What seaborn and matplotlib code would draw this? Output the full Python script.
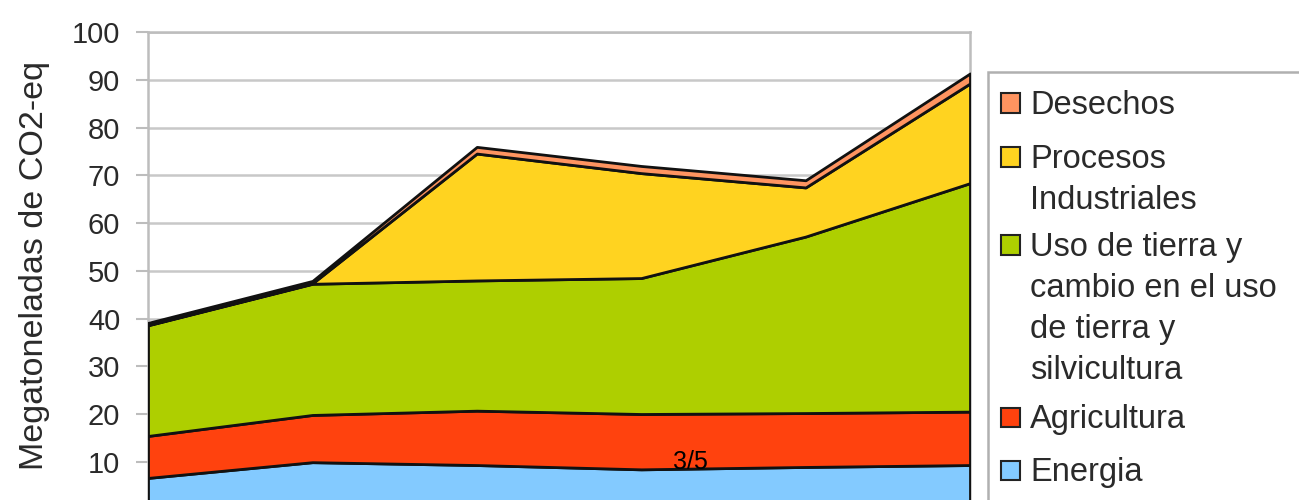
import matplotlib
matplotlib.use("Agg")
import matplotlib.pyplot as plt
import seaborn as sns
import numpy as np
import pandas as pd
from matplotlib.patches import Rectangle

# ---- data (x labels are cut off in the reference) ----
periodos = [0, 1, 2, 3, 4, 5]
energia = [6.6, 9.9, 9.3, 8.4, 8.9, 9.3]
agricultura = [8.8, 9.9, 11.4, 11.6, 11.3, 11.2]
uso_tierra = [23.2, 27.5, 27.3, 28.5, 37.0, 47.9]
procesos = [0.1, 0.1, 26.6, 22.0, 10.3, 20.9]
desechos = [0.4, 0.5, 1.4, 1.5, 1.5, 2.1]

series_names = ["Energia", "Agricultura",
                "Uso de tierra y\ncambio en el uso\nde tierra y\nsilvicultura",
                "Procesos\nIndustriales", "Desechos"]
colores = ["#83CAFF", "#FF420E", "#AECF00", "#FFD320", "#FF9460"]
yticks = [0, 10, 20, 30, 40, 50, 60, 70, 80, 90, 100]
ylabel = "Megatoneladas de CO2-eq"
nota = "3/5"

df = pd.DataFrame({"periodo": periodos, "Energia": energia, "Agricultura": agricultura,
                   "Uso": uso_tierra, "Procesos": procesos, "Desechos": desechos})

sns.set_theme(style="whitegrid")
plt.rcParams["font.family"] = ["Liberation Sans", "DejaVu Sans"]

W, H = 1299, 500
fig = plt.figure(figsize=(W / 100, H / 100), dpi=100)
fig.patch.set_facecolor("white")

def fx(px):
    return px / W

def fy(py):
    return 1 - py / H

y0_px, y100_px = 509.4, 32.4
ax = fig.add_axes([fx(148), fy(y0_px), fx(970) - fx(148), (y0_px - y100_px) / H])
ax.set_facecolor("white")

cols = ["Energia", "Agricultura", "Uso", "Procesos", "Desechos"]
ax.stackplot(df["periodo"], *[df[c] for c in cols], colors=colores,
             edgecolor="#111111", linewidth=2.0, zorder=3)

ax.set_xlim(0, 5)
ax.set_ylim(0, 100)
ax.set_yticks(yticks)
ax.set_xticks([])
ax.grid(axis="y", color="#c8c8c8", linewidth=1.8)
ax.grid(axis="x", visible=False)
for side in ["left", "top", "right", "bottom"]:
    ax.spines[side].set_color("#bdbdbd")
    ax.spines[side].set_linewidth(1.8)
ax.tick_params(axis="y", which="major", length=9, width=1.5, color="#bdbdbd",
               pad=11, labelsize=21, labelcolor="#2a2a2a", left=True)
ax.set_ylabel(ylabel, fontsize=24.5, color="#2a2a2a")
ax.yaxis.set_label_coords((50 - 148) / 822, (y0_px - 265) / (y0_px - y100_px))

# legend (drawn manually to keep the handle aligned with the first line)
fig.patches.append(Rectangle((fx(988), fy(560)), fx(1400) - fx(988), fy(72) - fy(560),
                             transform=fig.transFigure, facecolor="white",
                             edgecolor="#b0b0b0", linewidth=1.8, zorder=1))
leg_order = [4, 3, 2, 1, 0]
leg_y = [103, 157, 245, 417, 470]
for idx, yc in zip(leg_order, leg_y):
    s = 19
    fig.patches.append(Rectangle((fx(1001), fy(yc + s / 2)), s / W, s / H,
                                 transform=fig.transFigure, facecolor=colores[idx],
                                 edgecolor="#222222", linewidth=1.5, zorder=2))
    fig.text(fx(1030), fy(yc - 13), series_names[idx], fontsize=23.5, color="#2a2a2a",
             ha="left", va="top", linespacing=1.41, zorder=3)

fig.text(fx(690), fy(462), nota, fontsize=18, color="black", ha="center", va="center")

fig.savefig("out.png", dpi=100)
